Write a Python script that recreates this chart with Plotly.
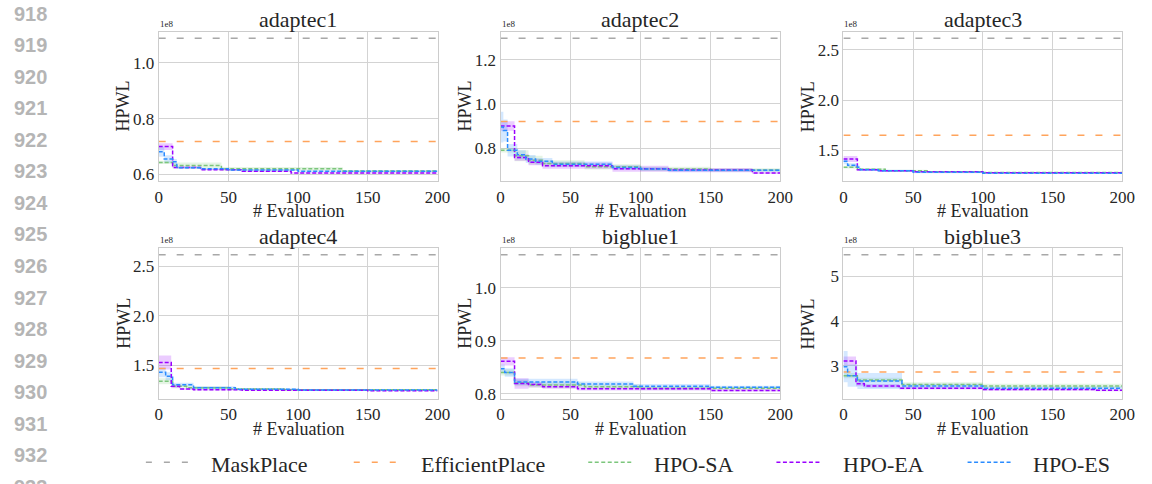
import plotly.graph_objects as go

W, H = 1152, 484
N_EVAL = 200

BENCHMARKS = ["adaptec1", "adaptec2", "adaptec3", "adaptec4", "bigblue1", "bigblue3"]

# Baseline HPWL (units of 1e8)
MASKPLACE = [1.088, 1.298, 2.615, 2.617, 1.063, 5.49]
EFFICIENTPLACE = [0.718, 0.921, 1.65, 1.47, 0.8675, 2.86]

# Best-so-far HPWL curves: evaluation where the value changes, mean (1e8), std (1e8)
A1_SA_X = [0, 10, 45, 132]
A1_SA_Y = [0.643, 0.632, 0.620, 0.612]
A1_SA_SD = [0.006, 0.011, 0.007, 0.003]
A1_EA_X = [0, 10, 30, 60, 95]
A1_EA_Y = [0.700, 0.625, 0.617, 0.611, 0.605]
A1_EA_SD = [0.012, 0.003, 0.002, 0.002, 0.002]
A1_ES_X = [0, 4, 10, 13, 30, 50, 100]
A1_ES_Y = [0.681, 0.655, 0.645, 0.624, 0.620, 0.616, 0.611]
A1_ES_SD = [0.018, 0.014, 0.010, 0.004, 0.003, 0.003, 0.003]

A2_SA_X = [0, 10, 20, 30, 60, 100, 150]
A2_SA_Y = [0.790, 0.765, 0.745, 0.730, 0.715, 0.705, 0.700]
A2_SA_SD = [0.010, 0.025, 0.020, 0.015, 0.012, 0.010, 0.008]
A2_EA_X = [0, 10, 20, 30, 80, 120, 180]
A2_EA_Y = [0.900, 0.757, 0.736, 0.720, 0.706, 0.700, 0.687]
A2_EA_SD = [0.022, 0.015, 0.014, 0.014, 0.014, 0.010, 0.005]
A2_ES_X = [0, 2, 5, 12, 18, 25, 37, 80, 100, 120]
A2_ES_Y = [0.895, 0.880, 0.790, 0.770, 0.750, 0.740, 0.727, 0.712, 0.705, 0.699]
A2_ES_SD = [0.070, 0.050, 0.028, 0.020, 0.018, 0.015, 0.012, 0.010, 0.008, 0.006]

A3_SA_X = [0, 10, 30, 60, 100]
A3_SA_Y = [1.330, 1.310, 1.295, 1.285, 1.278]
A3_SA_SD = [0.012, 0.012, 0.010, 0.008, 0.006]
A3_EA_X = [0, 10, 25, 50, 100]
A3_EA_Y = [1.412, 1.305, 1.295, 1.285, 1.277]
A3_EA_SD = [0.030, 0.010, 0.008, 0.006, 0.005]
A3_ES_X = [0, 3, 10, 12, 25, 50, 100]
A3_ES_Y = [1.390, 1.350, 1.330, 1.305, 1.295, 1.280, 1.272]
A3_ES_SD = [0.030, 0.020, 0.015, 0.010, 0.010, 0.008, 0.006]

A4_SA_X = [0, 10, 20, 50, 90]
A4_SA_Y = [1.340, 1.290, 1.275, 1.262, 1.255]
A4_SA_SD = [0.030, 0.015, 0.012, 0.008, 0.006]
A4_EA_X = [0, 9, 15, 25, 60, 150]
A4_EA_Y = [1.530, 1.290, 1.262, 1.255, 1.250, 1.245]
A4_EA_SD = [0.070, 0.020, 0.010, 0.008, 0.006, 0.005]
A4_ES_X = [0, 5, 10, 25, 55, 100]
A4_ES_Y = [1.430, 1.390, 1.305, 1.275, 1.260, 1.252]
A4_ES_SD = [0.050, 0.040, 0.020, 0.015, 0.010, 0.008]

B1_SA_X = [0, 10, 20, 60, 100]
B1_SA_Y = [0.840, 0.820, 0.816, 0.813, 0.810]
B1_SA_SD = [0.006, 0.006, 0.005, 0.004, 0.003]
B1_EA_X = [0, 10, 20, 30, 55, 150]
B1_EA_Y = [0.861, 0.819, 0.817, 0.813, 0.809, 0.806]
B1_EA_SD = [0.008, 0.010, 0.005, 0.004, 0.003, 0.002]
B1_ES_X = [0, 3, 10, 55, 95, 150]
B1_ES_Y = [0.847, 0.840, 0.822, 0.818, 0.814, 0.812]
B1_ES_SD = [0.008, 0.008, 0.006, 0.005, 0.004, 0.003]

B3_SA_X = [0, 10, 42, 100]
B3_SA_Y = [2.780, 2.680, 2.580, 2.550]
B3_SA_SD = [0.060, 0.050, 0.050, 0.050]
B3_EA_X = [0, 9, 15, 40, 100, 180]
B3_EA_Y = [3.110, 2.600, 2.550, 2.500, 2.470, 2.450]
B3_EA_SD = [0.100, 0.060, 0.040, 0.030, 0.030, 0.020]
B3_ES_X = [0, 3, 10, 42, 100]
B3_ES_Y = [2.980, 2.780, 2.660, 2.550, 2.500]
B3_ES_SD = [0.350, 0.250, 0.180, 0.050, 0.040]

SA_RUNS = [(A1_SA_X, A1_SA_Y, A1_SA_SD), (A2_SA_X, A2_SA_Y, A2_SA_SD), (A3_SA_X, A3_SA_Y, A3_SA_SD),
           (A4_SA_X, A4_SA_Y, A4_SA_SD), (B1_SA_X, B1_SA_Y, B1_SA_SD), (B3_SA_X, B3_SA_Y, B3_SA_SD)]
EA_RUNS = [(A1_EA_X, A1_EA_Y, A1_EA_SD), (A2_EA_X, A2_EA_Y, A2_EA_SD), (A3_EA_X, A3_EA_Y, A3_EA_SD),
           (A4_EA_X, A4_EA_Y, A4_EA_SD), (B1_EA_X, B1_EA_Y, B1_EA_SD), (B3_EA_X, B3_EA_Y, B3_EA_SD)]
ES_RUNS = [(A1_ES_X, A1_ES_Y, A1_ES_SD), (A2_ES_X, A2_ES_Y, A2_ES_SD), (A3_ES_X, A3_ES_Y, A3_ES_SD),
           (A4_ES_X, A4_ES_Y, A4_ES_SD), (B1_ES_X, B1_ES_Y, B1_ES_SD), (B3_ES_X, B3_ES_Y, B3_ES_SD)]

Y_RANGES = [(0.576, 1.112), (0.650, 1.328), (1.193, 2.680), (1.163, 2.680), (0.790, 1.075), (2.260, 5.630)]
Y_DTICK = [0.2, 0.2, 0.5, 0.5, 0.1, 1.0]
Y_FORMAT = [".1f", ".1f", ".1f", ".1f", ".1f", ".0f"]
X_TICKS = [0, 50, 100, 150, 200]
LINE_NUMBERS = list(range(918, 934))

METHODS = ["HPO-SA", "HPO-EA", "HPO-ES"]
COLORS = {
    "MaskPlace": "#a8a8a8",
    "EfficientPlace": "#ffa45c",
    "HPO-SA": "#7cc67c",
    "HPO-EA": "#9a00ff",
    "HPO-ES": "#2a8cff",
}
BANDS = {
    "HPO-SA": "rgba(124,198,124,0.20)",
    "HPO-EA": "rgba(154,0,255,0.20)",
    "HPO-ES": "rgba(42,140,255,0.20)",
}

SERIF = "Liberation Serif"
SANS = "Liberation Sans"
TEXT_C = "#262626"
COL_PX = [(157, 440), (504, 788), (852, 1135)]
ROW_PX = [(32, 183), (251, 403)]


def px_x(v):
    return v / W


def px_y(v):
    return 1 - v / H


def step(xs, vals):
    return list(xs) + [N_EVAL], list(vals) + [vals[-1]]


fig = go.Figure()
annotations = []
shapes = []
layout_axes = {}

for i, name in enumerate(BENCHMARKS):
    r, c = divmod(i, 3)
    sfx = "" if i == 0 else str(i + 1)
    xa, ya = "x" + sfx, "y" + sfx
    x0, x1 = COL_PX[c]
    y0, y1 = ROW_PX[r]

    # shaded std bands
    for m, runs in zip(METHODS, [SA_RUNS, EA_RUNS, ES_RUNS]):
        xs, ys, sd = runs[i]
        hi = [a + b for a, b in zip(ys, sd)]
        lo = [a - b for a, b in zip(ys, sd)]
        bx, bh = step(xs, hi)
        _, bl = step(xs, lo)
        fig.add_trace(go.Scatter(x=bx, y=bh, mode="lines", line=dict(width=0, shape="hv"),
                                 xaxis=xa, yaxis=ya, showlegend=False, hoverinfo="skip"))
        fig.add_trace(go.Scatter(x=bx, y=bl, mode="lines", line=dict(width=0, shape="hv"),
                                 fill="tonexty", fillcolor=BANDS[m],
                                 xaxis=xa, yaxis=ya, showlegend=False, hoverinfo="skip"))

    # baselines
    for bname, vals in [("MaskPlace", MASKPLACE), ("EfficientPlace", EFFICIENTPLACE)]:
        fig.add_trace(go.Scatter(x=[0, N_EVAL], y=[vals[i], vals[i]], mode="lines", name=bname,
                                 line=dict(color=COLORS[bname], width=1.5, dash="7px,11px"),
                                 xaxis=xa, yaxis=ya, showlegend=False))

    # mean curves
    for m, runs in zip(METHODS, [SA_RUNS, EA_RUNS, ES_RUNS]):
        xs, ys, _ = runs[i]
        sx, sy = step(xs, ys)
        fig.add_trace(go.Scatter(x=sx, y=sy, mode="lines", name=m,
                                 line=dict(color=COLORS[m], width=1.5, dash="4px,2px", shape="hv"),
                                 xaxis=xa, yaxis=ya, showlegend=False))

    axis_common = dict(showline=True, linecolor="#cccccc", linewidth=1.2, mirror=True,
                       showgrid=True, gridcolor="#d3d3d3", gridwidth=1.1, zeroline=False,
                       ticks="", tickfont=dict(family=SERIF, size=17, color=TEXT_C))
    layout_axes["xaxis" + sfx] = dict(axis_common, domain=[px_x(x0), px_x(x1)], anchor=ya,
                                      range=[0, N_EVAL], tickvals=X_TICKS)
    layout_axes["yaxis" + sfx] = dict(axis_common, domain=[px_y(y1), px_y(y0)], anchor=xa,
                                      range=list(Y_RANGES[i]), dtick=Y_DTICK[i], tick0=0,
                                      tickformat=Y_FORMAT[i])

    annotations.append(dict(text=name, x=px_x((x0 + x1) / 2), y=px_y(y0 - 12), xref="paper", yref="paper",
                            xanchor="center", yanchor="middle", showarrow=False,
                            font=dict(family=SERIF, size=22, color=TEXT_C)))
    annotations.append(dict(text="1e8", x=px_x(x0 - 1), y=px_y(y0 - 1), xref="paper", yref="paper",
                            xanchor="left", yanchor="bottom", showarrow=False,
                            font=dict(family=SERIF, size=9, color=TEXT_C)))
    annotations.append(dict(text="HPWL", x=px_x(x0 - 36), y=px_y((y0 + y1) / 2), xref="paper", yref="paper",
                            xanchor="center", yanchor="middle", textangle=-90, showarrow=False,
                            font=dict(family=SERIF, size=18, color=TEXT_C)))
    annotations.append(dict(text="# Evaluation", x=px_x((x0 + x1) / 2), y=px_y(y1 + 30), xref="paper",
                            yref="paper", xanchor="center", yanchor="middle", showarrow=False,
                            font=dict(family=SERIF, size=18, color=TEXT_C)))

# legend row
LEGEND_ITEMS = ["MaskPlace", "EfficientPlace", "HPO-SA", "HPO-EA", "HPO-ES"]
LEGEND_LINE_PX = [(144, 188), (355, 399), (593, 637), (784, 830), (978, 1024)]
LEGEND_TEXT_PX = [208, 421, 658, 850, 1042]
for item, (lx0, lx1), tx in zip(LEGEND_ITEMS, LEGEND_LINE_PX, LEGEND_TEXT_PX):
    baseline = item in ("MaskPlace", "EfficientPlace")
    shapes.append(dict(type="line", xref="paper", yref="paper", x0=px_x(lx0), x1=px_x(lx1),
                       y0=px_y(467), y1=px_y(467),
                       line=dict(color=COLORS[item], width=1.5,
                                 dash="6px,12px" if baseline else "4px,2.5px")))
    annotations.append(dict(text=item, x=px_x(tx), y=px_y(469), xref="paper", yref="paper",
                            xanchor="left", yanchor="middle", showarrow=False,
                            font=dict(family=SERIF, size=22, color=TEXT_C)))

# page line numbers
for k, num in enumerate(LINE_NUMBERS):
    annotations.append(dict(text=f"<b>{num}</b>", x=px_x(27), y=px_y(13.7 + 31.88 * k), xref="paper",
                            yref="paper", xanchor="center", yanchor="middle", showarrow=False,
                            font=dict(family=SANS, size=20, color="#b5b5b5")))

fig.update_layout(
    width=W, height=H,
    margin=dict(l=0, r=0, t=0, b=0),
    paper_bgcolor="white", plot_bgcolor="white",
    showlegend=False,
    annotations=annotations,
    shapes=shapes,
    **layout_axes,
)

fig.write_html("out.html")
